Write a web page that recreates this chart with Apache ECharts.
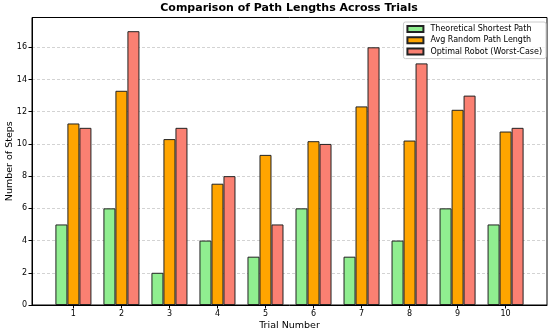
<!DOCTYPE html>
<html>
<head>
<meta charset="utf-8">
<script src="https://cdn.jsdelivr.net/npm/echarts@6/dist/echarts.min.js"></script>
<style>
html,body{margin:0;padding:0;background:#fff;}
#chart{width:550px;height:333px;}
</style>
</head>
<body>
<div id="chart"></div>
<script>
const trials = [1, 2, 3, 4, 5, 6, 7, 8, 9, 10];
const shortestPath = [5, 6, 2, 4, 3, 6, 3, 4, 6, 5];
const avgRandomPath = [11.27, 13.3, 10.3, 7.53, 9.32, 10.17, 12.33, 10.21, 12.12, 10.77];
const robotWorstCase = [11, 17, 11, 8, 5, 10, 16, 15, 13, 11];
const yTickValues = [0, 2, 4, 6, 8, 10, 12, 14, 16];
const seriesNames = ['Theoretical Shortest Path', 'Avg Random Path Length', 'Optimal Robot (Worst-Case)'];

const groupWidth = 0.25;
const offsets = [-groupWidth, 0, groupWidth];
const colors = ['#90EE90', '#FFA500', '#FA8072'];
const allSeries = [shortestPath, avgRandomPath, robotWorstCase];

const font = 'DejaVu Sans';
const chart = echarts.init(document.getElementById('chart'), null, {renderer: 'canvas'});

const series = allSeries.map((vals, s) => ({
  name: seriesNames[s],
  type: 'bar',
  data: trials.map((t, i) => [t + offsets[s], vals[i]]),
  barWidth: '100%',
  barGap: '-100%',
  itemStyle: {color: colors[s], borderColor: '#222', borderWidth: 1},
  emphasis: {disabled: true},
  z: 3
}));

const span = trials[trials.length - 1] - trials[0] + 3 * groupWidth;
const xMin = trials[0] - 1.5 * groupWidth - 0.05 * span;
const xMax = trials[trials.length - 1] + 1.5 * groupWidth + 0.05 * span;
const yMax = Math.max(...robotWorstCase) * 1.05;

chart.setOption({
  animation: false,
  backgroundColor: '#fff',
  title: {
    text: 'Comparison of Path Lengths Across Trials',
    left: 289, textAlign: 'center', top: 3, padding: 0,
    textStyle: {fontFamily: font, fontSize: 11, fontWeight: 'bold', color: '#000'}
  },
  legend: {
    orient: 'vertical', right: 4, top: 22,
    padding: [3, 4, 3, 3],
    itemGap: 3.3, itemWidth: 16, itemHeight: 6,
    icon: 'rect',
    backgroundColor: 'rgba(255,255,255,0.8)',
    borderColor: '#cccccc', borderWidth: 1, borderRadius: 2,
    textStyle: {fontFamily: font, fontSize: 8, color: '#000', padding: [0, 0, 0, 2]},
    data: seriesNames
  },
  grid: {
    left: 32, right: 3, top: 17.5, bottom: 28,
    outerBoundsMode: 'none',
    containLabel: false,
    show: true, borderColor: '#000', borderWidth: 1, backgroundColor: 'transparent'
  },
  xAxis: {
    type: 'value', min: xMin, max: xMax,
    name: 'Trial Number', nameLocation: 'middle', nameGap: 15.5, nameMoveOverlap: false,
    nameTextStyle: {fontFamily: font, fontSize: 9.5, color: '#000'},
    axisLine: {show: true, onZero: false, lineStyle: {color: '#000', width: 1}},
    axisTick: {show: true, length: 3.5, lineStyle: {color: '#000'}, customValues: trials},
    axisLabel: {fontFamily: font, fontSize: 8, color: '#000', margin: 5, customValues: trials},
    splitLine: {show: false}
  },
  yAxis: {
    type: 'value', min: 0, max: yMax, interval: 2,
    name: 'Number of Steps', nameLocation: 'middle', nameGap: 17, nameRotate: 90, nameMoveOverlap: false,
    nameTextStyle: {fontFamily: font, fontSize: 9.5, color: '#000'},
    axisLine: {show: true, lineStyle: {color: '#000', width: 1}},
    axisTick: {show: true, length: 3.5, lineStyle: {color: '#000'}, customValues: yTickValues},
    axisLabel: {fontFamily: font, fontSize: 8, color: '#000', margin: 5, customValues: yTickValues},
    splitLine: {show: true, lineStyle: {color: '#c8c8c8', type: [3, 2], width: 0.8}}
  },
  series: series
});
</script>
</body>
</html>
